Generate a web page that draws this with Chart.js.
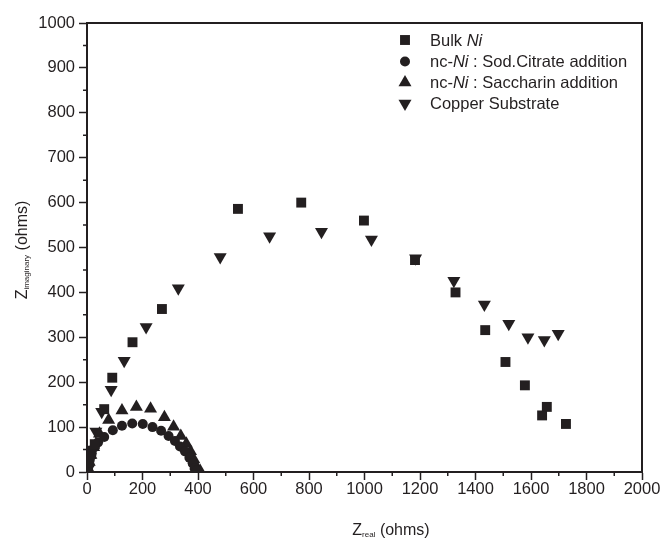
<!DOCTYPE html>
<html>
<head>
<meta charset="utf-8">
<script src="https://cdn.jsdelivr.net/npm/chart.js@4.4.0/dist/chart.umd.min.js"></script>
<style>
  html, body { margin: 0; padding: 0; background: #fff; }
  #wrap { width: 663px; height: 538px; }
</style>
</head>
<body>
<div id="wrap"><canvas id="nyquist" width="663" height="538"></canvas></div>
<script>
// Nyquist data, [Zreal, Zimaginary] in ohms
const bulkNi = [
  [4, 6], [8, 22], [15, 40], [28, 62], [62, 140], [91, 210], [164, 289], [270, 363],
  [544, 586], [772, 600], [998, 560], [1182, 472], [1328, 400], [1435, 316],
  [1508, 245], [1578, 193], [1640, 126], [1657, 145], [1726, 107]
];
const sodCitrate = [
  [3, 5], [6, 15], [10, 28], [17, 42], [27, 55], [40, 66], [62, 78], [93, 93],
  [126, 103], [163, 108], [201, 107], [236, 100], [267, 92], [294, 80], [317, 69],
  [335, 57], [353, 46], [369, 32], [381, 19], [388, 8], [395, 3]
];
const saccharin = [
  [4, 8], [8, 22], [14, 38], [24, 55], [45, 85], [78, 116], [126, 137], [178, 145],
  [229, 141], [279, 122], [312, 101], [338, 80], [358, 63], [373, 46], [385, 28],
  [393, 13], [400, 5], [408, 2]
];
const copperSub = [
  [5, 8], [10, 28], [18, 50], [32, 90], [53, 134], [87, 183], [134, 248], [213, 323],
  [329, 409], [480, 479], [658, 525], [845, 535], [1025, 518], [1184, 476],
  [1322, 426], [1432, 373], [1520, 330], [1589, 300], [1648, 294], [1698, 308]
];

const seriesNames = ['Bulk Ni', 'nc-Ni : Sod.Citrate addition', 'nc-Ni : Saccharin addition', 'Copper Substrate'];
const xTicks = [0, 200, 400, 600, 800, 1000, 1200, 1400, 1600, 1800, 2000];
const yTicks = [0, 100, 200, 300, 400, 500, 600, 700, 800, 900, 1000];

const ink = '#231f20';
const fontFam = "'Liberation Sans', Arial, sans-serif";

const markers = [
  { pointStyle: 'rect', radius: 7, rotation: 0 },
  { pointStyle: 'circle', radius: 5, rotation: 0 },
  { pointStyle: 'triangle', radius: 7.5, rotation: 0 },
  { pointStyle: 'triangle', radius: 7.5, rotation: 180 }
];

function toPoints(arr) {
  return arr.map(function(p) { return { x: p[0], y: p[1] }; });
}

const allSeries = [bulkNi, sodCitrate, saccharin, copperSub];
const datasets = allSeries.map(function(s, i) {
  return {
    label: seriesNames[i],
    data: toPoints(s),
    pointStyle: markers[i].pointStyle,
    pointRadius: markers[i].radius,
    pointRotation: markers[i].rotation,
    pointBackgroundColor: ink,
    pointBorderColor: ink,
    pointBorderWidth: 0,
    showLine: false
  };
});

// frame, minor ticks, axis titles with subscripts, legend with italic Ni
const decorations = {
  id: 'decorations',
  afterDraw(chart) {
    const ctx = chart.ctx;
    const a = chart.chartArea;
    const xs = chart.scales.x, ys = chart.scales.y;
    ctx.save();
    ctx.strokeStyle = ink;
    ctx.lineWidth = 2;
    ctx.strokeRect(a.left, a.top, a.right - a.left, a.bottom - a.top);

    // minor ticks
    ctx.lineWidth = 1.5;
    ctx.beginPath();
    for (let i = 0; i < xTicks.length - 1; i++) {
      const px = xs.getPixelForValue((xTicks[i] + xTicks[i + 1]) / 2);
      ctx.moveTo(px, a.bottom);
      ctx.lineTo(px, a.bottom + 4);
    }
    for (let i = 0; i < yTicks.length - 1; i++) {
      const py = ys.getPixelForValue((yTicks[i] + yTicks[i + 1]) / 2);
      ctx.moveTo(a.left, py);
      ctx.lineTo(a.left - 4, py);
    }
    ctx.stroke();

    ctx.fillStyle = ink;
    ctx.textBaseline = 'alphabetic';

    function drawSubTitle(main, sub, rest) {
      ctx.font = '16px ' + fontFam;
      const w1 = ctx.measureText(main).width;
      const w3 = ctx.measureText(rest).width;
      ctx.font = '8px ' + fontFam;
      const w2 = ctx.measureText(sub).width;
      let x = -(w1 + w2 + w3) / 2;
      ctx.textAlign = 'left';
      ctx.font = '16px ' + fontFam;
      ctx.fillText(main, x, 0);
      x += w1;
      ctx.font = '8px ' + fontFam;
      ctx.fillText(sub, x, 2);
      x += w2;
      ctx.font = '16px ' + fontFam;
      ctx.fillText(rest, x, 0);
    }
    ctx.save();
    ctx.translate(391, 535);
    drawSubTitle('Z', 'real', ' (ohms)');
    ctx.restore();

    ctx.save();
    ctx.translate(27, 250);
    ctx.rotate(-Math.PI / 2);
    drawSubTitle('Z', 'imaginary', ' (ohms)');
    ctx.restore();

    // legend
    const lx = 405, tx = 430;
    const rows = [40, 61.5, 82.5, 103.5];
    seriesNames.forEach(function(name, i) {
      ctx.fillStyle = ink;
      ctx.strokeStyle = ink;
      Chart.helpers.drawPoint(ctx, {
        pointStyle: markers[i].pointStyle,
        radius: markers[i].radius,
        rotation: markers[i].rotation,
        borderWidth: 0
      }, lx, rows[i]);
      let x = tx;
      const parts = name.split(/(Ni)/);
      ctx.textAlign = 'left';
      ctx.textBaseline = 'middle';
      parts.forEach(function(p) {
        if (!p) return;
        ctx.font = (p === 'Ni' ? 'italic ' : '') + '16.5px ' + fontFam;
        ctx.fillText(p, x, rows[i] + 1);
        x += ctx.measureText(p).width;
      });
    });
    ctx.restore();
  }
};

const plain = function(v) { return String(v); };

const ctx = document.getElementById('nyquist').getContext('2d');
const nyquistChart = new Chart(ctx, {
  type: 'scatter',
  data: { datasets: datasets },
  options: {
    responsive: false,
    animation: false,
    layout: { padding: { left: 0, top: 23, right: 21, bottom: 0 } },
    plugins: {
      legend: { display: false },
      tooltip: { enabled: false }
    },
    scales: {
      x: {
        type: 'linear',
        min: 0,
        max: 2000,
        afterBuildTicks: function(axis) {
          axis.ticks = xTicks.map(function(v) { return { value: v }; });
        },
        afterFit: function(axis) { axis.height = 66; },
        border: { display: true, color: ink, width: 2 },
        grid: { drawOnChartArea: false, drawTicks: true, tickLength: 8, tickColor: ink, tickWidth: 1.5 },
        ticks: { color: ink, font: { family: fontFam, size: 16.5 }, padding: 0, maxRotation: 0, autoSkip: false, callback: plain }
      },
      y: {
        type: 'linear',
        min: 0,
        max: 1000,
        afterBuildTicks: function(axis) {
          axis.ticks = yTicks.map(function(v) { return { value: v }; });
        },
        afterFit: function(axis) { axis.width = 87; },
        border: { display: true, color: ink, width: 2 },
        grid: { drawOnChartArea: false, drawTicks: true, tickLength: 8, tickColor: ink, tickWidth: 1.5 },
        ticks: { color: ink, font: { family: fontFam, size: 16.5 }, padding: 4, autoSkip: false, callback: plain }
      }
    }
  },
  plugins: [decorations]
});
</script>
</body>
</html>
